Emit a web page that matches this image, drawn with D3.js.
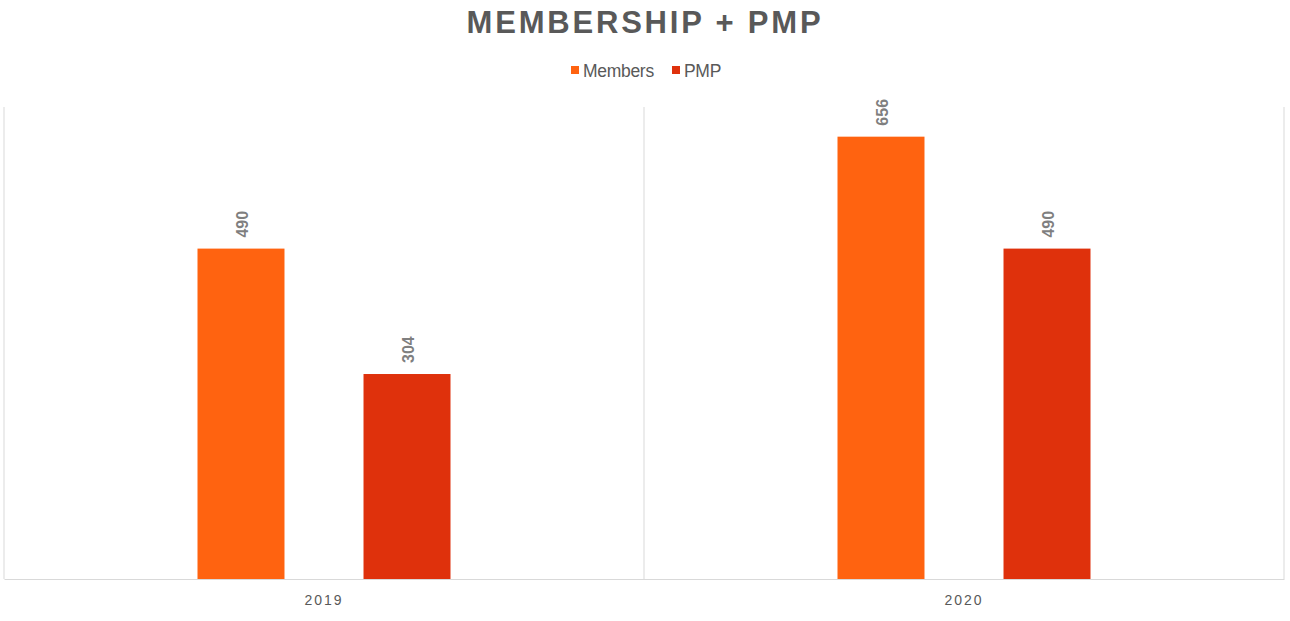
<!DOCTYPE html>
<html>
<head>
<meta charset="utf-8">
<script src="https://cdn.jsdelivr.net/npm/d3@7"></script>
<style>
  body { margin: 0; background: #fff; }
  text { font-family: "Liberation Sans", Arial, sans-serif; }
</style>
</head>
<body>
<script>
//chart data
var years = ["2019", "2020"];
var seriesNames = ["Members", "PMP"];
var members = [490, 656];
var pmp = [304, 490];
var colors = ["#ff6310", "#df310c"];

var width = 1290,
    height = 621,
    margin = {top: 107, right: 6, bottom: 42, left: 4};

var svg = d3.select("body")
    .append("svg")
    .attr("width", width)
    .attr("height", height);

var innerW = width - margin.left - margin.right,
    innerH = height - margin.top - margin.bottom;

var g = svg.append("g")
    .attr("transform", "translate(" + margin.left + "," + margin.top + ")");

//scales
var x0 = d3.scaleBand().domain(years).range([0, innerW]);
var x1 = d3.scaleBand().domain(seriesNames)
    .range([x0.bandwidth() / 2 - 126.5, x0.bandwidth() / 2 + 126.5])
    .paddingInner(0.476);
var y = d3.scaleLinear().domain([0, 700]).range([innerH, 0]);

//category separators
g.selectAll(".sep")
    .data(d3.range(years.length + 1))
    .enter()
    .append("line")
    .attr("x1", function(d){ return d * x0.bandwidth(); })
    .attr("x2", function(d){ return d * x0.bandwidth(); })
    .attr("y1", 0)
    .attr("y2", innerH)
    .attr("stroke", "#d9d9d9")
    .attr("stroke-width", 1);

var rows = years.map(function(yr, i){
    return {year: yr, values: [members[i], pmp[i]]};
});

var groups = g.selectAll(".grp")
    .data(rows)
    .enter()
    .append("g")
    .attr("transform", function(d){ return "translate(" + x0(d.year) + ",0)"; });

groups.selectAll("rect")
    .data(function(d){ return d.values.map(function(v, j){ return {name: seriesNames[j], v: v, j: j}; }); })
    .enter()
    .append("rect")
    .attr("x", function(d){ return x1(d.name); })
    .attr("width", x1.bandwidth())
    .attr("y", function(d){ return y(d.v); })
    .attr("height", function(d){ return innerH - y(d.v); })
    .attr("fill", function(d){ return colors[d.j]; });

//value labels, rotated
groups.selectAll(".lbl")
    .data(function(d){ return d.values.map(function(v, j){ return {name: seriesNames[j], v: v}; }); })
    .enter()
    .append("text")
    .attr("transform", function(d){
        var cx = x1(d.name) + x1.bandwidth() / 2 + 7;
        return "translate(" + cx + "," + (y(d.v) - 11) + ") rotate(-90)";
    })
    .attr("text-anchor", "start")
    .attr("font-size", 16)
    .attr("font-weight", "bold")
    .attr("fill", "#7f7f7f")
    .text(function(d){ return d.v; });

//x axis
var xAxis = g.append("g")
    .attr("transform", "translate(0," + innerH + ")")
    .call(d3.axisBottom(x0).tickSize(0).tickPadding(16));
xAxis.select(".domain").attr("stroke", "#d9d9d9");
xAxis.selectAll("text")
    .attr("font-size", 14)
    .attr("letter-spacing", "2px")
    .attr("fill", "#595959")
    .style("font-family", "'Liberation Sans', Arial, sans-serif");

//title
svg.append("text")
    .attr("x", width / 2)
    .attr("y", 33)
    .attr("text-anchor", "middle")
    .attr("font-size", 31)
    .attr("font-weight", "bold")
    .attr("letter-spacing", "2.8px")
    .attr("fill", "#595959")
    .text("MEMBERSHIP + PMP");

//legend
var legend = svg.append("g").attr("transform", "translate(571,70)");
var legendX = [0, 101];
seriesNames.forEach(function(name, i){
    legend.append("rect")
        .attr("x", legendX[i])
        .attr("y", -4)
        .attr("width", 8)
        .attr("height", 8)
        .attr("fill", colors[i]);
    legend.append("text")
        .attr("x", legendX[i] + 12)
        .attr("y", 6.5)
        .attr("font-size", 17.5)
        .attr("letter-spacing", "-0.3px")
        .attr("fill", "#595959")
        .text(name);
});
</script>
</body>
</html>
